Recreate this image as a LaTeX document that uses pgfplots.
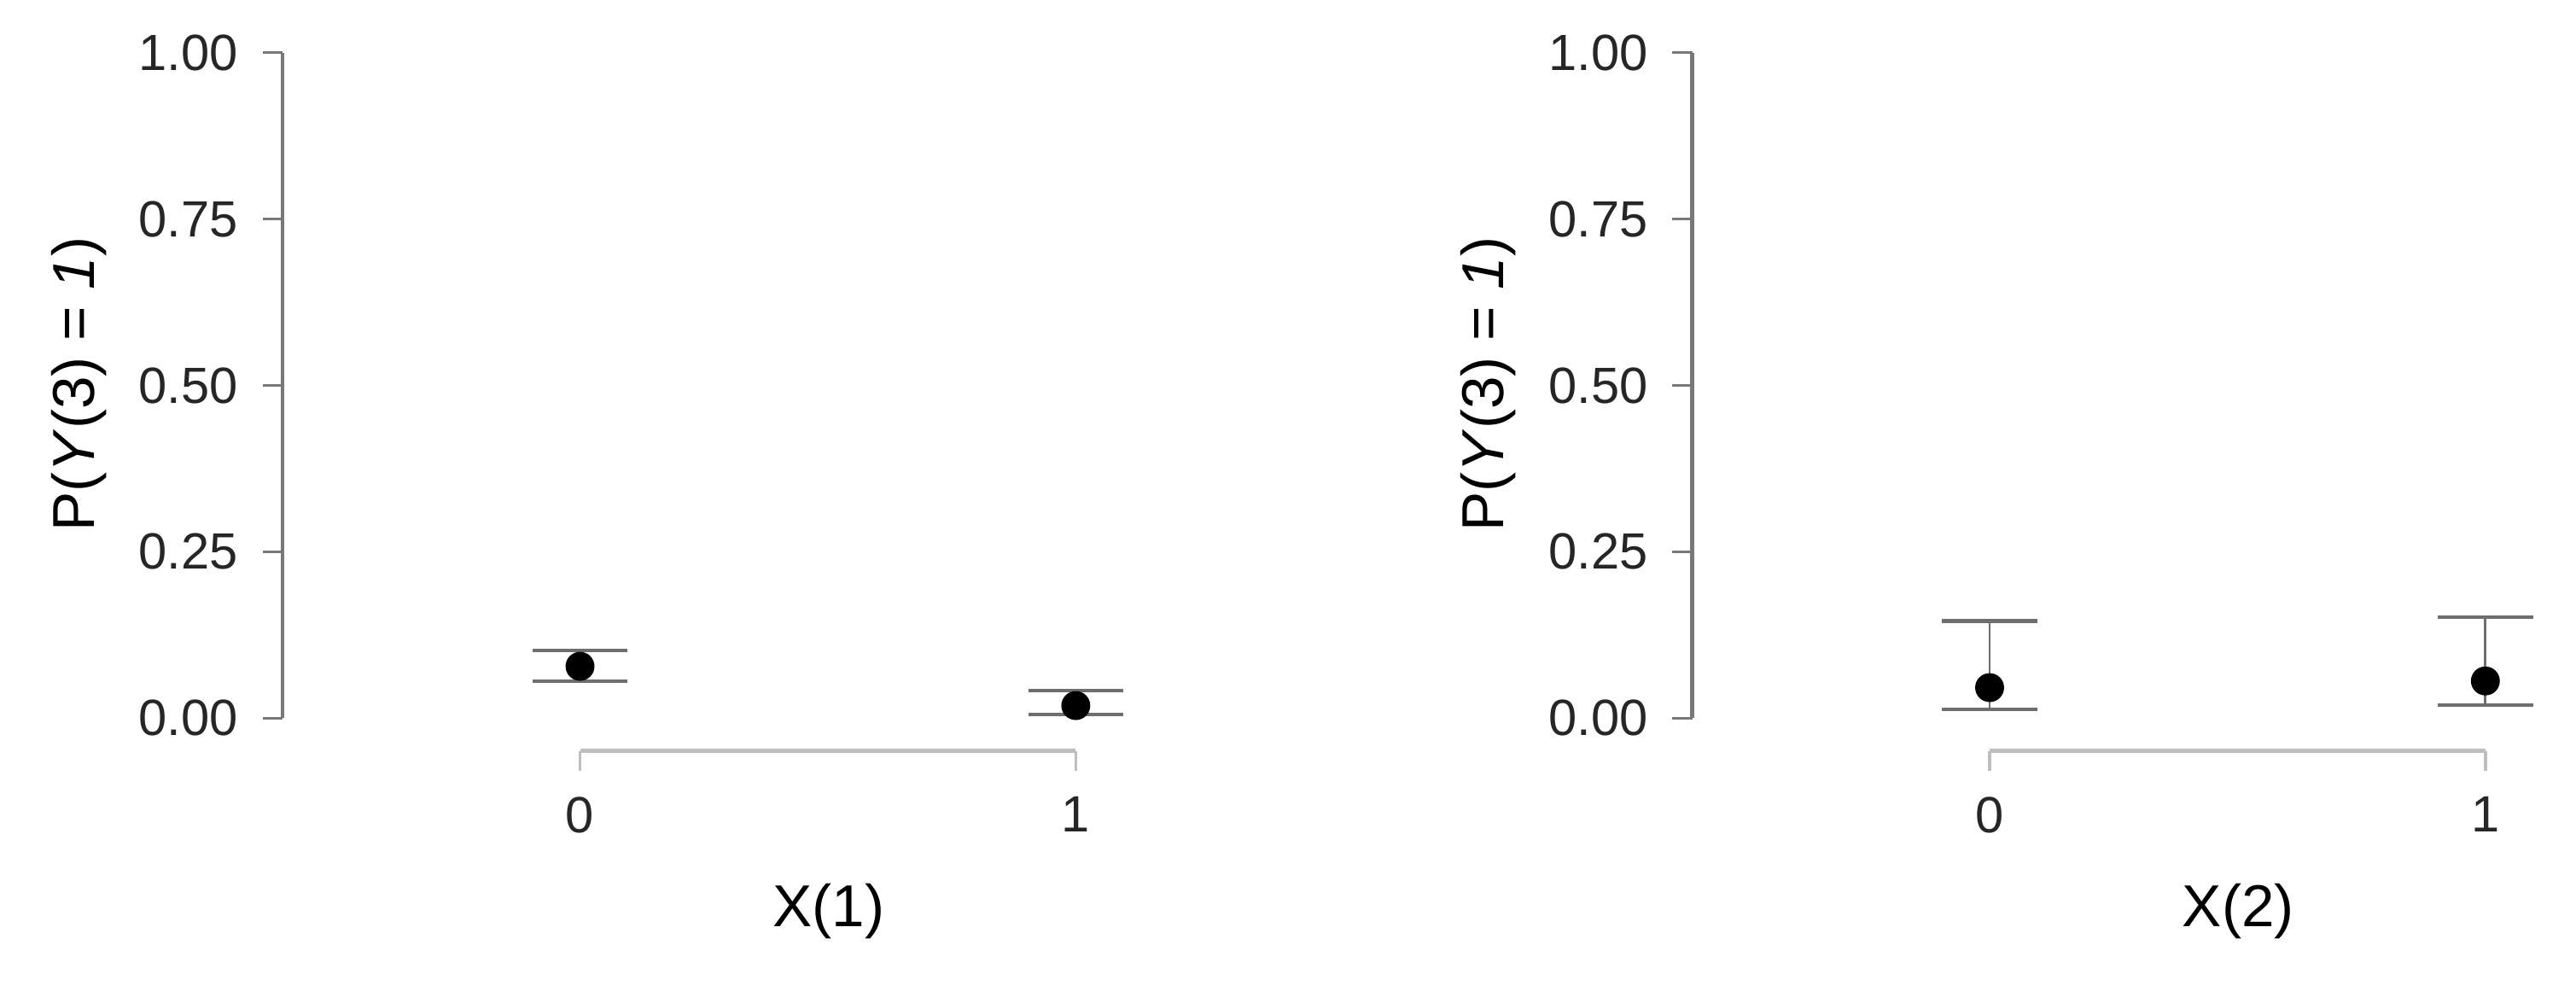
\documentclass[border=0pt]{standalone}
\usepackage{fontspec}
\setmainfont{Liberation Sans}
\usepackage{pgfplots}
\pgfplotsset{compat=1.18}
\definecolor{axgray}{RGB}{120,120,120}
\definecolor{xgray}{RGB}{190,190,190}
\definecolor{bargray}{RGB}{110,110,110}

\pgfplotsset{
  probpanel/.style={
    scale only axis,
    width=256.5pt, height=212.5pt,
    xmin=-0.6, xmax=1.1,
    ymin=-0.049, ymax=1.0,
    axis lines=left,
    axis line style={draw=none},
    xtick={0,1}, xticklabels={0,1},
    ytick={0,0.25,0.5,0.75,1},
    yticklabels={0.00,0.25,0.50,0.75,1.00},
    tick align=outside,
    major tick length=6pt,
    ytick style={axgray, line width=0.9pt},
    xtick style={xgray, line width=0.9pt},
    tick label style={font=\fontsize{15.5}{18}\selectfont, black!85},
    yticklabel style={xshift=-4pt},
    xticklabel style={yshift=-4.5pt},
    /pgf/number format/assume math mode=true,
    label style={font=\fontsize{18}{22}\selectfont},
    ylabel style={at={(axis description cs:-0.2415,0.525)}, anchor=center},
    xlabel style={at={(axis description cs:0.648,-0.23)}, anchor=center},
    clip=false,
  },
  ebar/.style={
    only marks, mark=*, mark size=4.2pt, mark options={black},
    error bars/.cd, y dir=both, y explicit,
    error bar style={bargray, line width=0.7pt},
    error mark options={rotate=90, mark size=14.5pt, bargray, line width=1.1pt},
  },
}

\begin{document}
\begin{tikzpicture}
\path[use as bounding box] (-86pt,-76.5pt) rectangle (698pt,228.5pt);

\begin{axis}[probpanel, xlabel={X(1)}, ylabel={P(\textit{Y}(3) = \textit{1})}]
\draw[axgray, line width=1.2pt] (axis cs:-0.6,0) -- (axis cs:-0.6,1);
\draw[xgray, line width=1.1pt] (axis cs:0,-0.049) -- (axis cs:1,-0.049);
\addplot+[ebar] coordinates {
  (0,0.078) += (0,0.024) -= (0,0.022)
  (1,0.019) += (0,0.023) -= (0,0.013)
};
\end{axis}

\begin{axis}[probpanel, at={(429pt,0pt)}, xlabel={X(2)}, ylabel={P(\textit{Y}(3) = \textit{1})}]
\draw[axgray, line width=1.2pt] (axis cs:-0.6,0) -- (axis cs:-0.6,1);
\draw[xgray, line width=1.1pt] (axis cs:0,-0.049) -- (axis cs:1,-0.049);
\addplot+[ebar] coordinates {
  (0,0.046) += (0,0.100) -= (0,0.033)
  (1,0.056) += (0,0.096) -= (0,0.0365)
};
\end{axis}
\end{tikzpicture}
\end{document}
